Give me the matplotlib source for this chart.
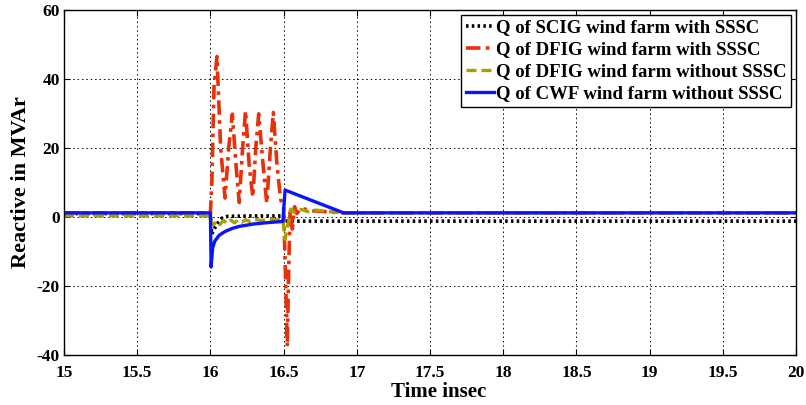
import matplotlib
matplotlib.use("Agg")
import matplotlib.pyplot as plt

# Reactive power traces (time in s, Q in MVAr)
t_scig = [15.0, 16.0, 16.008, 16.02, 16.035, 16.055, 16.08, 16.12, 16.3, 16.5, 16.51, 20.0]
q_scig = [1.0, 1.0, -5.0, -4.0, -2.8, -1.5, -0.3, 0.2, 0.3, 0.3, -1.2, -1.2]

t_dfig_sssc = [15.0, 16.0, 16.01, 16.025, 16.045, 16.07, 16.10, 16.125, 16.15, 16.175,
               16.197, 16.22, 16.24, 16.265, 16.29, 16.31, 16.33, 16.36, 16.385, 16.41,
               16.43, 16.455, 16.48, 16.50, 16.515, 16.525, 16.535, 16.545, 16.56, 16.575,
               16.59, 16.62, 16.7, 16.9, 20.0]
q_dfig_sssc = [1.2, 1.2, 10.0, 38.0, 46.5, 20.0, 5.5, 20.0, 29.8, 15.0,
               4.2, 20.0, 30.8, 15.0, 5.8, 20.0, 29.9, 15.0, 4.0, 20.0,
               30.3, 15.0, 5.0, 3.0, -20.0, -37.6, -15.0, 2.5, -3.5, 3.0,
               1.0, 2.5, 1.8, 1.2, 1.2]

t_dfig = [15.0, 16.0, 16.005, 16.02, 16.04, 16.065, 16.09, 16.115, 16.14, 16.165,
          16.19, 16.215, 16.24, 16.27, 16.30, 16.35, 16.40, 16.45, 16.495, 16.51,
          16.53, 16.55, 16.58, 16.62, 16.67, 16.72, 16.8, 16.9, 20.0]
q_dfig = [0.3, 0.3, -1.5, -2.3, -1.2, -2.2, -1.0, -1.9, -0.9, -1.7,
          -0.8, -1.5, -0.8, -1.3, -0.7, -1.0, -0.6, -0.8, -0.7, -6.5,
          -2.0, 2.3, 1.2, 2.2, 1.5, 2.0, 1.6, 1.2, 1.2]

t_cwf = [15.0, 16.0, 16.005, 16.015, 16.03, 16.06, 16.1, 16.15, 16.2, 16.3,
         16.4, 16.495, 16.51, 16.91, 20.0]
q_cwf = [1.2, 1.2, -14.5, -9.0, -7.0, -5.3, -4.2, -3.3, -2.7, -2.0,
         -1.6, -1.3, 7.8, 1.2, 1.2]

labels = ["Q of SCIG wind farm with SSSC",
          "Q of DFIG wind farm with SSSC",
          "Q of DFIG wind farm without SSSC",
          "Q of CWF wind farm without SSSC"]

x_ticks = [15, 15.5, 16, 16.5, 17, 17.5, 18, 18.5, 19, 19.5, 20]
x_tick_labels = ["15", "15.5", "16", "16.5", "17", "17.5", "18", "18.5", "19", "19.5", "20"]
y_ticks = [-40, -20, 0, 20, 40, 60]

plt.rcParams["font.family"] = ["Liberation Serif", "DejaVu Serif"]
plt.rcParams["font.weight"] = "bold"
plt.rcParams["axes.unicode_minus"] = False

fig = plt.figure(figsize=(8.06, 4.05), dpi=100)
ax = fig.add_axes([0.0794, 0.1235, 0.9082, 0.8518])

ax.plot(t_scig, q_scig, color="black", lw=2.6, linestyle=(0, (0.7, 0.9)), label=labels[0])
ax.plot(t_dfig_sssc, q_dfig_sssc, color="#e8300a", lw=2.6, linestyle=(0, (4, 1.5, 1, 1.5)),
        label=labels[1])
ax.plot(t_dfig, q_dfig, color="#a8a000", lw=2.4, linestyle=(0, (3, 1.5)), label=labels[2])
ax.plot(t_cwf, q_cwf, color="#0a14ff", lw=2.4, linestyle="-", label=labels[3])

ax.set_xlim(15, 20)
ax.set_ylim(-40, 60)
ax.set_xticks(x_ticks)
ax.set_xticklabels(x_tick_labels)
ax.set_yticks(y_ticks)
ax.tick_params(direction="in", top=True, right=True, labelsize=12.5, length=4)
ax.tick_params(axis="x", pad=7)
ax.tick_params(axis="y", pad=3)
for lab in ax.get_xticklabels() + ax.get_yticklabels():
    lab.set_fontweight("bold")
ax.grid(True, color="black", linestyle=(0, (1.5, 3)), lw=0.7)
for s in ax.spines.values():
    s.set_linewidth(1.0)

ax.set_xlabel("Time insec", fontsize=15, fontweight="bold", va="top")
ax.xaxis.set_label_coords(0.512, -0.079)
ax.set_ylabel("Reactive in MVAr", fontsize=16, fontweight="bold", labelpad=4)

leg = ax.legend(loc="upper right", prop={"weight": "bold", "size": 13.5},
                handlelength=1.5, handletextpad=0.1, labelspacing=0.26,
                borderpad=0.25, borderaxespad=0.25, fancybox=False, framealpha=1)
leg.get_frame().set_edgecolor("black")
leg.get_frame().set_linewidth(1.0)

fig.savefig("out.png", dpi=100)
